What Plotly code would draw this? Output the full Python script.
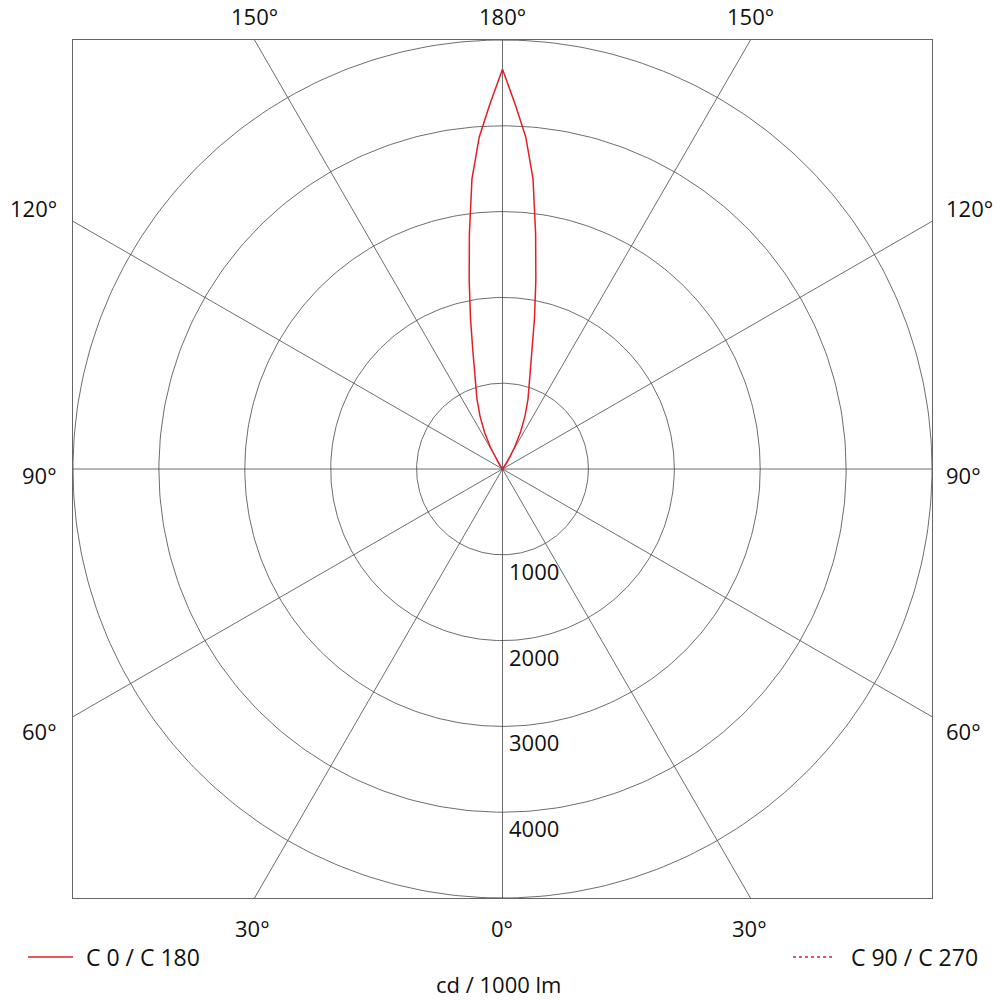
import numpy as np
import plotly.graph_objects as go

# ---- data ----
gamma_deg = [180, 178, 176, 174, 172, 170, 168, 166, 164, 162, 160, 157, 154, 151, 148, 145, 140, 135, 120, 90, 60, 30, 0]
c0_c180 = [4660, 4250, 3880, 3400, 2770, 2235, 1790, 1430, 1180, 1000, 870, 670, 480, 290, 150, 60, 15, 0, 0, 0, 0, 0, 0]

ring_values = [1000, 2000, 3000, 4000, 5000]
ring_labels = ["1000", "2000", "3000", "4000"]
spoke_angles = [0, 30, 60, 90, 120, 150]
rmax = 5000

RED = "rgb(228,30,38)"
GRID = "#474747"
FONT = "Open Sans"
FS = 22

fig = go.Figure()

# spokes (full lines through centre, clipped to the square frame)
for a in spoke_angles:
    t = np.radians(a)
    dx, dy = np.sin(t), -np.cos(t)
    s = rmax / max(abs(dx), abs(dy))
    fig.add_trace(go.Scatter(x=[-dx * s, dx * s], y=[-dy * s, dy * s], mode="lines",
                             line=dict(color=GRID, width=0.8), hoverinfo="skip", showlegend=False))

# rings
phi = np.linspace(0, 2 * np.pi, 361)
for r in ring_values:
    fig.add_trace(go.Scatter(x=r * np.cos(phi), y=r * np.sin(phi), mode="lines",
                             line=dict(color=GRID, width=0.8), hoverinfo="skip", showlegend=False))

# intensity curve: C0 on right half, C180 on left half
g = np.radians(np.array(gamma_deg, dtype=float))
I = np.array(c0_c180, dtype=float)
xr, yr = I * np.sin(g), -I * np.cos(g)
xs = np.concatenate([xr[::-1], -xr])
ys = np.concatenate([yr[::-1], yr])
fig.add_trace(go.Scatter(x=xs, y=ys, mode="lines", line=dict(color=RED, width=1.5),
                         hoverinfo="skip", showlegend=False))

ann = []
# ring labels
for r, lab in zip(ring_values, ring_labels):
    ann.append(dict(x=0, y=-r, text=lab, showarrow=False, xanchor="left", yanchor="middle",
                    xshift=4, yshift=-16, font=dict(size=FS, family=FONT, color="#111")))

# page-pixel positions converted to paper fractions of the plot area
pl, pr, pt, pb = 73, 932, 40, 898
def to_paper(px, py):
    return (px - pl) / (pr - pl), (pb - py) / (pb - pt)

def page_text(px, py, text, xanchor="center", size=FS):
    x, y = to_paper(px, py)
    ann.append(dict(x=x, y=y, xref="paper", yref="paper", text=text, showarrow=False,
                    xanchor=xanchor, yanchor="middle", font=dict(size=size, family=FONT, color="#111")))

page_text(502, 16, "180°")
page_text(254, 16, "150°")
page_text(750, 16, "150°")
page_text(59, 208, "120°", "right")
page_text(59, 475, "90°", "right")
page_text(59, 731, "60°", "right")
page_text(944, 208, "120°", "left")
page_text(944, 475, "90°", "left")
page_text(944, 731, "60°", "left")
page_text(252, 928, "30°")
page_text(502, 928, "0°")
page_text(749, 928, "30°")
page_text(84, 957, "C 0 / C 180", "left", 23)
page_text(849, 957, "C 90 / C 270", "left", 23)
page_text(498, 984, "cd / 1000 lm")

shapes = []
x0, y0 = to_paper(28, 957)
x1, _ = to_paper(73, 957)
shapes.append(dict(type="line", xref="paper", yref="paper", x0=x0, x1=x1, y0=y0, y1=y0,
                   line=dict(color=RED, width=1.5)))
x0, y0 = to_paper(793, 957)
x1, _ = to_paper(833, 957)
shapes.append(dict(type="line", xref="paper", yref="paper", x0=x0, x1=x1, y0=y0, y1=y0,
                   line=dict(color=RED, width=1.5, dash="dot")))

ax = dict(range=[-rmax, rmax], showgrid=False, zeroline=False, showticklabels=False,
          ticks="", showline=True, mirror=True, linecolor="#666666", linewidth=1, fixedrange=True)
fig.update_layout(width=1000, height=1000, margin=dict(l=73, r=68, t=40, b=102),
                  paper_bgcolor="white", plot_bgcolor="white", xaxis=ax, yaxis=ax,
                  annotations=ann, shapes=shapes, showlegend=False, hovermode=False)

# remove the browser's default 8px body margin so the figure fills the window exactly
fig.write_html("out.html", config={"displayModeBar": False, "staticPlot": True},
               post_script="document.body.style.margin='0';document.body.style.overflow='hidden';")
